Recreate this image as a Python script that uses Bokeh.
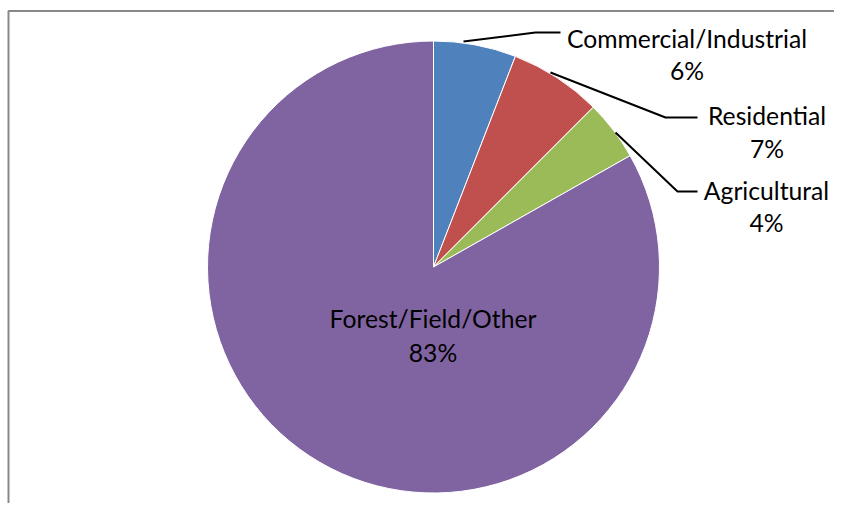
import math
from bokeh.plotting import figure
from bokeh.models import Range1d, ColumnDataSource
from bokeh.core.properties import value
from bokeh.embed import file_html
from bokeh.resources import INLINE

# ---- data ----
categories = ["Commercial/Industrial", "Residential", "Agricultural", "Forest/Field/Other"]
shares = [5.9, 6.6, 4.3, 83.2]
pct_labels = ["6%", "7%", "4%", "83%"]
colors = ["#4F81BD", "#C0504D", "#9BBB59", "#8064A2"]

W, H = 834, 503

def X(ix):
    return ix

def Y(iy):
    return H - iy

p = figure(width=W, height=H, x_range=Range1d(0, W), y_range=Range1d(0, H),
           output_backend="svg", toolbar_location=None, min_border=0)
p.axis.visible = False
p.grid.visible = False
p.outline_line_color = None
p.background_fill_color = "white"
p.border_fill_color = "white"

# chart border (top and left only, as the reference is cropped)
p.line([X(8), X(8), W], [0, Y(10.5), Y(10.5)], line_color="#888888", line_width=2)

# pie
total = sum(shares)
cx, cy, r = X(433), Y(266.5), 226
starts, ends = [], []
cum = 0.0
for s in shares:
    starts.append(math.pi / 2 - 2 * math.pi * cum / total)
    cum += s
    ends.append(math.pi / 2 - 2 * math.pi * cum / total)

src = ColumnDataSource(dict(start=starts, end=ends, color=colors, cat=categories))
p.wedge(x=cx, y=cy, radius=r, start_angle="start", end_angle="end", direction="clock",
        fill_color="color", line_color="white", line_width=1, source=src)

# leader lines
leaders = [
    [(463, 41), (535, 32), (560, 32)],
    [(550, 72), (665, 117), (697, 117)],
    [(615, 132), (677, 191), (697, 191)],
]
for pts in leaders:
    p.line([X(a) for a, b in pts], [Y(b) for a, b in pts], line_color="black", line_width=2)

# labels
label_pos = [(686.5, 38, 70), (766.5, 115, 148), (766, 190, 222), (432.5, 318, 352)]
font = value("Lato")
lsrc = ColumnDataSource(dict(
    x=[X(a) for a, b, c in label_pos],
    y1=[Y(b) for a, b, c in label_pos],
    y2=[Y(c) for a, b, c in label_pos],
    name=categories, pct=pct_labels))
p.text(x="x", y="y1", text="name", source=lsrc, text_font=font, text_font_size="24.7px",
       text_align="center", text_baseline="middle", text_color="black")
p.text(x="x", y="y2", text="pct", source=lsrc, text_font=font, text_font_size="24.7px",
       text_align="center", text_baseline="middle", text_color="black")

open("out.html", "w").write(file_html(p, INLINE))
